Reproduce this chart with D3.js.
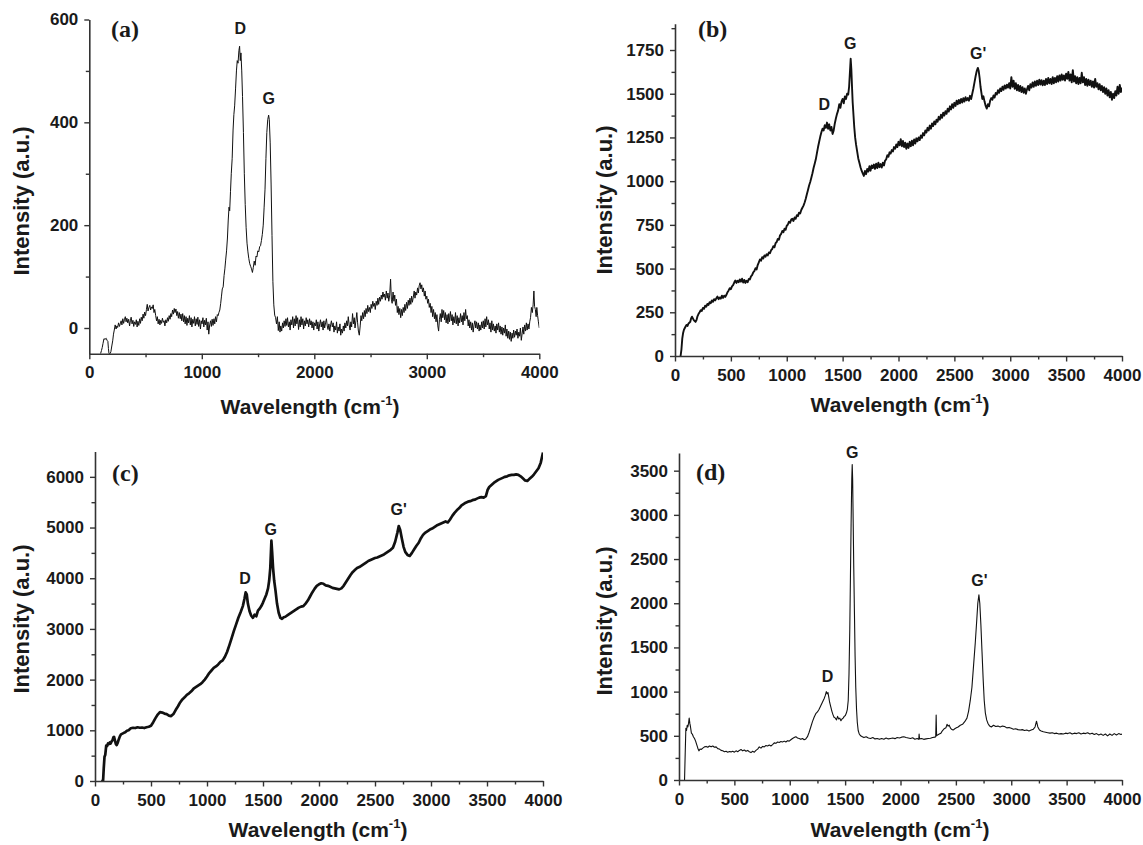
<!DOCTYPE html>
<html><head><meta charset="utf-8">
<script src="https://cdn.jsdelivr.net/npm/d3@7"></script>
<style>body{margin:0;background:#fff}svg{display:block}</style>
</head><body>
<svg id="chart" width="1143" height="845"></svg>
<script>
// ---------- DATA ----------
const specA = [[100,-50],[108,-44],[115,-38],[122,-30],[130,-21],[140,-22],[150,-20],[158,-24],[165,-26],[170,-40],[175,-50],[185,-50],[192,-46],[200,-35],[208,-25],[215,-12],[222,-4],[230,6],[238,-2],[245,4],[252,1],[260,10],[268,3],[275,8],[283,14],[290,6],[298,18],[305,9],[312,16],[320,22],[327,12],[334,19],[342,10],[350,17],[358,4],[365,14],[372,21],[380,8],[388,15],[395,3],[402,12],[410,7],[418,16],[425,2],[432,13],[440,5],[448,18],[455,9],[462,21],[470,14],[478,27],[485,19],[492,31],[500,24],[508,36],[515,46],[522,33],[530,40],[538,44],[545,35],[552,41],[560,38],[568,45],[575,30],[582,36],[590,24],[598,14],[605,22],[612,8],[620,17],[628,6],[635,15],[642,9],[650,19],[658,11],[665,14],[672,4],[680,16],[688,10],[695,20],[702,13],[710,24],[718,17],[725,28],[732,22],[740,35],[748,27],[755,38],[762,30],[770,37],[778,24],[785,32],[792,19],[800,30],[808,18],[815,27],[822,14],[830,28],[838,12],[845,24],[852,8],[860,22],[868,5],[875,19],[882,10],[890,24],[898,6],[905,20],[912,2],[920,17],[928,9],[935,22],[942,4],[950,18],[958,7],[965,21],[972,3],[980,16],[988,-2],[995,14],[1002,8],[1010,20],[1018,2],[1025,15],[1032,6],[1040,19],[1048,-4],[1055,12],[1062,-12],[1070,6],[1078,14],[1085,3],[1092,17],[1100,5],[1108,18],[1115,8],[1122,22],[1130,12],[1138,26],[1145,24],[1152,30],[1160,35],[1168,48],[1175,62],[1182,76],[1190,80],[1198,102],[1205,115],[1212,132],[1220,150],[1228,175],[1235,210],[1242,235],[1248,228],[1255,265],[1262,300],[1270,330],[1278,385],[1285,415],[1292,432],[1300,465],[1308,500],[1315,520],[1322,515],[1330,540],[1336,548],[1342,520],[1348,535],[1355,500],[1362,450],[1370,380],[1378,300],[1386,240],[1394,195],[1402,165],[1410,148],[1418,135],[1426,125],[1434,120],[1442,115],[1450,108],[1458,118],[1466,130],[1474,122],[1482,140],[1490,138],[1498,150],[1506,148],[1514,158],[1522,160],[1530,170],[1538,182],[1546,200],[1554,235],[1562,270],[1570,330],[1578,380],[1586,405],[1594,414],[1600,405],[1608,360],[1616,280],[1624,180],[1632,90],[1640,45],[1648,25],[1656,20],[1664,8],[1672,22],[1680,-5],[1688,12],[1695,-8],[1702,4],[1710,-6],[1718,10],[1725,0],[1732,14],[1740,3],[1748,18],[1755,5],[1762,20],[1770,2],[1778,12],[1785,-4],[1792,16],[1800,6],[1808,22],[1815,0],[1822,18],[1830,4],[1838,24],[1845,8],[1852,20],[1860,-3],[1868,16],[1875,2],[1882,22],[1890,6],[1898,18],[1905,-2],[1912,14],[1920,4],[1928,20],[1935,8],[1942,16],[1950,2],[1958,18],[1965,6],[1972,14],[1980,0],[1988,12],[1995,-4],[2002,10],[2010,4],[2018,16],[2025,-2],[2032,12],[2040,-6],[2048,8],[2055,16],[2062,2],[2070,12],[2078,-4],[2085,14],[2092,0],[2100,10],[2108,18],[2115,4],[2122,-3],[2130,8],[2138,-6],[2145,6],[2152,14],[2160,2],[2168,10],[2175,-8],[2182,4],[2190,-4],[2198,12],[2205,-10],[2212,2],[2220,-6],[2228,8],[2235,-14],[2242,-2],[2250,-10],[2258,4],[2265,-6],[2272,10],[2280,0],[2288,14],[2295,4],[2302,22],[2310,6],[2318,-4],[2325,12],[2332,2],[2340,28],[2348,8],[2355,20],[2362,0],[2370,14],[2378,30],[2385,10],[2392,-6],[2400,-14],[2408,4],[2415,24],[2422,14],[2430,30],[2438,18],[2445,34],[2452,22],[2460,38],[2468,28],[2475,44],[2482,32],[2490,40],[2498,30],[2505,46],[2512,38],[2520,52],[2528,42],[2535,48],[2542,36],[2550,52],[2558,44],[2565,58],[2572,46],[2580,60],[2588,52],[2595,64],[2602,56],[2610,70],[2618,60],[2625,66],[2632,54],[2640,72],[2648,58],[2655,68],[2662,52],[2670,64],[2678,95],[2685,56],[2692,48],[2700,70],[2708,52],[2715,64],[2722,44],[2730,56],[2738,30],[2745,42],[2752,26],[2760,38],[2768,20],[2775,36],[2782,24],[2790,40],[2798,30],[2805,46],[2812,34],[2820,50],[2828,38],[2835,54],[2842,44],[2850,58],[2858,46],[2865,62],[2872,50],[2880,60],[2888,72],[2895,58],[2902,70],[2910,64],[2918,78],[2925,68],[2932,82],[2940,88],[2948,76],[2955,84],[2962,70],[2970,78],[2978,62],[2985,72],[2992,56],[3000,62],[3008,48],[3015,56],[3022,40],[3030,48],[3038,30],[3045,42],[3052,22],[3060,36],[3068,18],[3075,30],[3082,12],[3090,26],[3098,4],[3105,-6],[3112,16],[3120,28],[3128,12],[3135,36],[3142,20],[3150,34],[3158,16],[3165,30],[3172,10],[3180,26],[3188,8],[3195,28],[3202,12],[3210,32],[3218,14],[3225,26],[3232,6],[3240,22],[3248,10],[3255,30],[3262,8],[3270,24],[3278,4],[3285,20],[3292,10],[3300,28],[3308,12],[3315,24],[3322,6],[3330,30],[3338,14],[3345,36],[3352,18],[3360,24],[3368,4],[3375,16],[3382,0],[3390,12],[3398,-4],[3405,10],[3412,-8],[3420,6],[3428,14],[3435,0],[3442,12],[3450,-2],[3458,10],[3465,-6],[3472,6],[3480,-4],[3488,12],[3495,0],[3502,14],[3510,-2],[3518,18],[3525,2],[3532,22],[3540,6],[3548,16],[3555,-2],[3562,10],[3570,-8],[3578,14],[3585,-4],[3592,8],[3600,-6],[3608,4],[3615,-10],[3622,8],[3630,-4],[3638,10],[3645,-8],[3652,4],[3660,-12],[3668,2],[3675,-14],[3682,0],[3690,-10],[3698,6],[3705,-16],[3712,-2],[3720,-20],[3728,-6],[3735,-22],[3742,-8],[3750,-26],[3758,-10],[3765,-20],[3772,-4],[3780,-18],[3788,-6],[3795,-14],[3802,-2],[3810,-20],[3818,-8],[3825,-16],[3832,0],[3840,-24],[3848,-10],[3855,2],[3862,-12],[3870,6],[3878,-6],[3885,10],[3892,-4],[3900,8],[3908,-2],[3915,12],[3922,20],[3930,40],[3938,30],[3945,45],[3952,72],[3958,42],[3965,36],[3972,22],[3978,40],[3985,24],[3992,12],[4000,0]];

const specB = [[50,0],[58,40],[65,99],[72,130],[80,150],[88,160],[96,170],[104,178],[112,172],[120,185],[128,190],[136,195],[144,215],[152,225],[160,215],[168,205],[176,200],[184,195],[192,205],[200,225],[210,240],[220,250],[230,262],[240,258],[250,275],[260,270],[270,288],[280,282],[290,298],[300,292],[310,308],[320,302],[330,318],[340,310],[350,325],[360,318],[370,330],[380,340],[390,325],[400,335],[410,328],[420,345],[430,332],[440,345],[450,338],[460,350],[470,365],[480,375],[490,388],[500,382],[510,398],[520,405],[530,420],[540,432],[550,418],[560,430],[570,422],[580,438],[590,425],[600,442],[610,420],[620,435],[630,418],[640,430],[650,422],[660,440],[670,438],[680,455],[690,462],[700,478],[710,485],[720,502],[730,495],[740,520],[750,535],[760,552],[770,545],[780,565],[790,558],[800,575],[810,568],[820,582],[830,575],[840,592],[850,588],[860,605],[870,612],[880,628],[890,622],[900,645],[910,652],[920,670],[930,665],[940,690],[950,698],[960,715],[970,708],[980,728],[990,722],[1000,745],[1010,752],[1020,768],[1030,762],[1040,780],[1050,785],[1060,772],[1070,792],[1080,785],[1090,805],[1100,800],[1110,820],[1120,815],[1130,835],[1140,848],[1150,860],[1160,878],[1170,900],[1180,925],[1190,950],[1200,975],[1210,995],[1220,1020],[1230,1045],[1240,1075],[1250,1100],[1260,1125],[1270,1160],[1280,1195],[1290,1225],[1300,1255],[1310,1280],[1320,1300],[1330,1290],[1340,1320],[1350,1305],[1360,1335],[1370,1300],[1380,1325],[1390,1290],[1400,1310],[1410,1270],[1420,1290],[1430,1330],[1440,1360],[1450,1385],[1460,1405],[1470,1440],[1480,1420],[1490,1455],[1500,1470],[1510,1445],[1520,1485],[1530,1470],[1540,1500],[1550,1495],[1558,1540],[1565,1620],[1572,1700],[1578,1640],[1584,1540],[1590,1450],[1596,1390],[1604,1310],[1612,1250],[1620,1210],[1630,1170],[1640,1130],[1650,1105],[1660,1080],[1670,1060],[1680,1045],[1690,1030],[1700,1058],[1710,1040],[1720,1070],[1730,1055],[1740,1085],[1750,1060],[1760,1090],[1770,1075],[1780,1095],[1790,1070],[1800,1100],[1810,1075],[1820,1105],[1830,1080],[1840,1098],[1850,1078],[1860,1105],[1870,1090],[1880,1118],[1890,1125],[1900,1148],[1910,1140],[1920,1165],[1930,1158],[1940,1178],[1950,1170],[1960,1195],[1970,1185],[1980,1210],[1990,1195],[2000,1225],[2010,1205],[2020,1240],[2030,1200],[2040,1230],[2050,1195],[2060,1220],[2070,1185],[2080,1215],[2090,1190],[2100,1225],[2110,1200],[2120,1232],[2130,1205],[2140,1238],[2150,1215],[2160,1245],[2170,1228],[2180,1250],[2190,1235],[2200,1262],[2210,1248],[2220,1275],[2230,1262],[2240,1290],[2250,1278],[2260,1305],[2270,1290],[2280,1318],[2290,1300],[2300,1330],[2310,1315],[2320,1342],[2330,1325],[2340,1352],[2350,1340],[2360,1368],[2370,1352],[2380,1380],[2390,1362],[2400,1392],[2410,1375],[2420,1400],[2430,1385],[2440,1415],[2450,1398],[2460,1428],[2470,1410],[2480,1440],[2490,1420],[2500,1448],[2510,1430],[2520,1460],[2530,1440],[2540,1465],[2550,1445],[2560,1470],[2570,1450],[2580,1475],[2590,1455],[2600,1480],[2610,1462],[2620,1475],[2630,1460],[2640,1488],[2650,1470],[2660,1500],[2670,1530],[2680,1565],[2690,1600],[2700,1630],[2710,1648],[2718,1630],[2726,1590],[2734,1540],[2742,1505],[2750,1470],[2760,1485],[2770,1455],[2780,1430],[2790,1415],[2800,1440],[2810,1428],[2820,1460],[2830,1475],[2840,1465],[2850,1490],[2860,1478],[2870,1505],[2880,1495],[2890,1520],[2900,1505],[2910,1530],[2920,1515],[2930,1540],[2940,1522],[2950,1548],[2960,1530],[2970,1552],[2980,1535],[2990,1560],[3000,1530],[3010,1595],[3020,1540],[3030,1575],[3040,1528],[3050,1560],[3060,1520],[3070,1550],[3080,1515],[3090,1545],[3100,1510],[3110,1538],[3120,1505],[3130,1530],[3140,1500],[3150,1525],[3160,1545],[3170,1520],[3180,1555],[3190,1535],[3200,1565],[3210,1540],[3220,1570],[3230,1545],[3240,1575],[3250,1550],[3260,1580],[3270,1552],[3280,1578],[3290,1548],[3300,1575],[3310,1550],[3320,1585],[3330,1555],[3340,1590],[3350,1560],[3360,1585],[3370,1555],[3380,1595],[3390,1560],[3400,1590],[3410,1565],[3420,1600],[3430,1570],[3440,1605],[3450,1575],[3460,1610],[3470,1580],[3480,1605],[3490,1575],[3500,1615],[3510,1585],[3520,1625],[3530,1575],[3540,1610],[3550,1565],[3560,1635],[3570,1570],[3580,1600],[3590,1560],[3600,1595],[3610,1555],[3620,1590],[3630,1560],[3640,1620],[3650,1565],[3660,1595],[3670,1550],[3680,1585],[3690,1545],[3700,1580],[3710,1550],[3720,1575],[3730,1540],[3740,1570],[3750,1535],[3760,1585],[3770,1540],[3780,1560],[3790,1525],[3800,1555],[3810,1520],[3820,1545],[3830,1510],[3840,1538],[3850,1500],[3860,1530],[3870,1490],[3880,1520],[3890,1480],[3900,1510],[3910,1465],[3920,1500],[3930,1475],[3940,1515],[3950,1490],[3960,1540],[3970,1500],[3980,1550],[3990,1510],[4000,1535]];

const specC = [[55,0],[72,0],[78,250],[85,480],[92,520],[100,700],[108,690],[116,740],[124,730],[132,760],[140,740],[148,780],[156,800],[164,860],[170,870],[178,800],[186,730],[194,710],[202,750],[212,820],[222,880],[232,920],[245,935],[258,950],[270,960],[285,990],[300,1000],[320,1040],[340,1050],[360,1045],[380,1060],[400,1050],[420,1055],[440,1045],[460,1060],[480,1070],[500,1090],[520,1160],[540,1240],[560,1310],[580,1360],[600,1350],[620,1330],[640,1320],[660,1290],[680,1280],[700,1320],[720,1400],[740,1470],[760,1550],[780,1610],[800,1650],[820,1700],[840,1730],[860,1770],[880,1820],[900,1850],[920,1880],[940,1910],[960,1950],[980,2000],[1000,2060],[1020,2130],[1040,2180],[1060,2230],[1080,2260],[1100,2300],[1120,2350],[1140,2380],[1160,2450],[1180,2550],[1200,2680],[1220,2820],[1240,2960],[1260,3090],[1280,3220],[1300,3330],[1320,3450],[1335,3600],[1345,3720],[1355,3680],[1365,3500],[1380,3350],[1395,3260],[1410,3220],[1425,3280],[1440,3250],[1455,3360],[1470,3400],[1485,3450],[1500,3520],[1515,3600],[1530,3680],[1545,3800],[1555,3950],[1565,4200],[1575,4740],[1582,4500],[1590,4200],[1600,3950],[1612,3750],[1625,3500],[1640,3320],[1655,3220],[1670,3200],[1685,3230],[1700,3240],[1720,3270],[1740,3300],[1760,3330],[1780,3360],[1800,3390],[1820,3420],[1840,3440],[1860,3450],[1880,3500],[1900,3560],[1920,3640],[1940,3720],[1960,3790],[1980,3850],[2000,3880],[2020,3900],[2040,3890],[2060,3860],[2080,3850],[2100,3830],[2120,3810],[2140,3800],[2160,3790],[2180,3780],[2200,3800],[2220,3850],[2240,3920],[2260,3990],[2280,4060],[2300,4120],[2320,4160],[2340,4200],[2360,4220],[2380,4250],[2400,4280],[2420,4310],[2440,4340],[2460,4360],[2480,4380],[2500,4400],[2520,4410],[2540,4430],[2560,4450],[2580,4470],[2600,4500],[2620,4530],[2640,4560],[2660,4600],[2680,4720],[2700,4900],[2712,5030],[2725,4950],[2740,4780],[2755,4620],[2770,4520],[2790,4460],[2810,4440],[2830,4500],[2850,4570],[2870,4640],[2890,4700],[2910,4790],[2930,4860],[2950,4900],[2970,4930],[2990,4960],[3010,4980],[3030,5010],[3050,5040],[3070,5060],[3090,5080],[3110,5100],[3130,5120],[3150,5100],[3170,5160],[3190,5230],[3210,5290],[3230,5340],[3250,5380],[3270,5430],[3290,5460],[3310,5490],[3330,5510],[3350,5520],[3370,5540],[3390,5550],[3410,5570],[3430,5590],[3450,5600],[3470,5590],[3490,5620],[3505,5740],[3520,5800],[3540,5840],[3560,5880],[3580,5910],[3600,5940],[3620,5960],[3640,5980],[3660,6000],[3680,6010],[3700,6030],[3720,6040],[3740,6040],[3760,6050],[3780,6040],[3800,6010],[3820,5970],[3840,5930],[3860,5920],[3880,5960],[3900,6000],[3920,6050],[3940,6110],[3960,6170],[3980,6280],[4000,6480]];

const specD = [[50,0],[56,300],[62,585],[68,560],[74,620],[80,600],[86,640],[92,700],[98,640],[104,600],[112,530],[120,520],[130,490],[140,470],[150,440],[160,400],[170,360],[180,330],[190,350],[200,345],[215,360],[230,375],[245,380],[260,370],[275,385],[290,375],[305,385],[320,370],[335,375],[350,355],[365,350],[380,335],[395,330],[410,320],[425,325],[440,315],[455,322],[470,318],[485,325],[500,315],[515,330],[530,320],[545,335],[560,345],[575,330],[590,340],[605,325],[620,335],[635,320],[650,310],[665,325],[680,315],[695,335],[710,350],[725,375],[740,360],[755,380],[770,375],[785,390],[800,385],[815,395],[830,385],[845,400],[860,420],[875,415],[890,430],[905,425],[920,435],[935,430],[950,440],[965,430],[980,445],[995,440],[1010,455],[1025,470],[1040,480],[1055,490],[1070,475],[1085,470],[1100,460],[1115,470],[1130,455],[1145,465],[1160,490],[1175,540],[1190,600],[1205,660],[1220,710],[1235,750],[1250,770],[1265,800],[1280,840],[1295,880],[1310,920],[1322,960],[1330,1000],[1338,975],[1345,990],[1352,940],[1360,880],[1370,830],[1380,780],[1390,740],[1400,710],[1412,700],[1422,680],[1432,720],[1442,690],[1452,700],[1462,670],[1472,690],[1482,700],[1492,720],[1502,730],[1512,760],[1520,800],[1528,900],[1535,1200],[1542,1700],[1548,2300],[1554,2900],[1560,3400],[1564,3570],[1568,3400],[1573,2900],[1578,2400],[1584,1900],[1590,1400],[1596,1050],[1603,800],[1610,650],[1618,560],[1628,520],[1640,500],[1655,490],[1670,480],[1690,490],[1710,475],[1730,470],[1750,480],[1770,465],[1790,470],[1810,460],[1830,470],[1850,462],[1870,475],[1890,465],[1910,470],[1930,475],[1950,468],[1970,480],[1990,475],[2010,485],[2030,490],[2050,480],[2070,475],[2090,470],[2110,478],[2130,462],[2150,470],[2165,460],[2168,520],[2172,465],[2190,470],[2210,460],[2230,465],[2250,470],[2270,472],[2290,480],[2310,485],[2318,490],[2322,735],[2326,500],[2335,510],[2350,520],[2365,530],[2380,560],[2395,580],[2410,590],[2420,630],[2430,610],[2440,620],[2450,590],[2460,575],[2475,565],[2490,580],[2505,590],[2520,600],[2540,620],[2560,630],[2580,660],[2600,700],[2615,780],[2630,900],[2645,1050],[2660,1300],[2675,1550],[2688,1800],[2698,2000],[2708,2095],[2716,2000],[2726,1750],[2736,1450],[2746,1150],[2756,900],[2766,760],[2778,680],[2790,640],[2805,610],[2820,600],[2840,620],[2860,605],[2880,610],[2900,600],[2920,610],[2940,605],[2960,590],[2980,595],[3000,585],[3020,575],[3040,580],[3060,570],[3080,565],[3100,570],[3120,560],[3140,565],[3160,555],[3180,565],[3200,575],[3215,600],[3228,665],[3240,600],[3255,565],[3270,555],[3290,545],[3310,540],[3330,535],[3350,530],[3370,535],[3390,525],[3410,530],[3430,520],[3450,525],[3470,520],[3490,530],[3510,525],[3530,535],[3550,520],[3570,530],[3590,525],[3610,535],[3630,520],[3650,530],[3670,525],[3690,535],[3710,520],[3730,530],[3750,515],[3770,525],[3790,510],[3810,520],[3830,505],[3850,520],[3870,500],[3890,520],[3910,505],[3930,525],[3950,510],[3970,525],[3990,515],[4000,520]];

// tick values
const xMajorA = [0,1000,2000,3000,4000];
const xMinorA = [500,1500,2500,3500];
const yMajorA = [0,200,400,600];
const yMinorA = [100,300,500];
const xMajorBCD = [0,500,1000,1500,2000,2500,3000,3500,4000];
const xMinorBCD = [250,750,1250,1750,2250,2750,3250,3750];
const yMajorB = [0,250,500,750,1000,1250,1500,1750];
const yMinorB = [125,375,625,875,1125,1375,1625,1875];
const yMajorC = [0,1000,2000,3000,4000,5000,6000];
const yMinorC = [500,1500,2500,3500,4500,5500];
const yMajorD = [0,500,1000,1500,2000,2500,3000,3500];
const yMinorD = [250,750,1250,1750,2250,2750,3250];

// peak annotations: [label, wavenumber, intensity]
const peaksA = [["D",1342,583],["G",1594,446]];
const peaksB = [["D",1336,1439],["G",1569,1788],["G'",2712,1730]];
const peaksC = [["D",1340,4002],["G",1569,4971],["G'",2712,5354]];
const peaksD = [["D",1341,1169],["G",1564,3708],["G'",2712,2263]];

const panelTags = ["(a)","(b)","(c)","(d)"];
const xTitle = "Wavelength (cm";
const xTitleSup = "-1";
const yTitle = "Intensity (a.u.)";

// ---------- LAYOUT ----------
const layout = [
 {data:specA, xDom:[0,4000], yDom:[-50,600], xr:[89.3,539.3], yr:[353.7,19.5], xMaj:xMajorA, xMin:xMinorA, yMaj:yMajorA, yMin:yMinorA, peaks:peaksA, tag:[111,37], yT:[21,201], xT:[310,414], sw:1},
 {data:specB, xDom:[0,4000], yDom:[0,1900], xr:[675,1122], yr:[356,23.8], xMaj:xMajorBCD, xMin:xMinorBCD, yMaj:yMajorB, yMin:yMinorB, peaks:peaksB, tag:[698,37], yT:[604,200], xT:[900,412], sw:1.9},
 {data:specC, xDom:[0,4000], yDom:[0,6500], xr:[95,543], yr:[781,451.5], xMaj:xMajorBCD, xMin:xMinorBCD, yMaj:yMajorC, yMin:yMinorC, peaks:peaksC, tag:[112,481], yT:[21,619], xT:[318,837], sw:2.7},
 {data:specD, xDom:[0,4000], yDom:[0,3700], xr:[679,1122], yr:[780,453], xMaj:xMajorBCD, xMin:xMinorBCD, yMaj:yMajorD, yMin:yMinorD, peaks:peaksD, tag:[696,480], yT:[604,621], xT:[900,837], sw:1.1}
];

const svg = d3.select("#chart");
const FONT = "'Liberation Sans', Arial, Helvetica, sans-serif";
const INK = "#1a1a1a";

layout.forEach((p, i) => {
  const x = d3.scaleLinear().domain(p.xDom).range(p.xr);
  const y = d3.scaleLinear().domain(p.yDom).range(p.yr);
  const g = svg.append("g");

  const cid = "clip" + i;
  svg.append("clipPath").attr("id", cid).append("rect")
    .attr("x", p.xr[0]).attr("y", p.yr[1]).attr("width", p.xr[1]-p.xr[0]).attr("height", p.yr[0]-p.yr[1]);

  g.append("path").datum(p.data)
    .attr("clip-path", `url(#${cid})`)
    .attr("fill","none").attr("stroke","#111").attr("stroke-width",p.sw).attr("stroke-linejoin","round")
    .attr("d", d3.line().x(d=>x(d[0])).y(d=>y(d[1])));

  // minor ticks
  g.append("g").attr("transform",`translate(0,${p.yr[0]})`)
    .call(d3.axisBottom(x).tickValues(p.xMin).tickSize(3.5).tickFormat(""))
    .call(s=>s.select(".domain").remove());
  g.append("g").attr("transform",`translate(${p.xr[0]},0)`)
    .call(d3.axisLeft(y).tickValues(p.yMin).tickSize(3.5).tickFormat(""))
    .call(s=>s.select(".domain").remove());
  // major axes
  g.append("g").attr("transform",`translate(0,${p.yr[0]})`)
    .call(d3.axisBottom(x).tickValues(p.xMaj).tickSize(5.5).tickSizeOuter(0).tickPadding(7).tickFormat(d3.format("d")));
  g.append("g").attr("transform",`translate(${p.xr[0]},0)`)
    .call(d3.axisLeft(y).tickValues(p.yMaj).tickSize(5).tickSizeOuter(0).tickPadding(6).tickFormat(d3.format("d")));
  g.selectAll(".tick line").attr("stroke", "#333").attr("stroke-width",1.4);
  g.selectAll(".domain").attr("stroke","#333").attr("stroke-width",1.6);
  g.selectAll(".tick text").attr("font-family",FONT).attr("font-weight","bold").attr("font-size",17).attr("fill",INK);

  // panel tag
  g.append("text").attr("x",p.tag[0]).attr("y",p.tag[1])
    .attr("font-family","'Liberation Serif','Times New Roman',serif").attr("font-weight","bold")
    .attr("font-size",24).attr("fill",INK).text(panelTags[i]);

  // peak labels
  g.selectAll("text.peak").data(p.peaks).enter().append("text").attr("class","peak")
    .attr("x",d=>x(d[1])).attr("y",d=>y(d[2])).attr("dy","0.36em")
    .attr("text-anchor","middle").attr("font-family",FONT).attr("font-weight","bold")
    .attr("font-size",16).attr("fill",INK).text(d=>d[0]);

  // y title
  g.append("text").attr("transform",`translate(${p.yT[0]},${p.yT[1]}) rotate(-90)`)
    .attr("text-anchor","middle").attr("dy","0.36em")
    .attr("font-family",FONT).attr("font-weight","bold").attr("font-size",22).attr("fill",INK)
    .text(yTitle);

  // x title
  const xt = g.append("text").attr("x",p.xT[0]).attr("y",p.xT[1])
    .attr("text-anchor","middle")
    .attr("font-family",FONT).attr("font-weight","bold").attr("font-size",21).attr("fill",INK);
  xt.append("tspan").text(xTitle);
  xt.append("tspan").attr("dy",-9).attr("font-size",13).text(xTitleSup);
  xt.append("tspan").attr("dy",9).text(")");
});
</script>
</body></html>
